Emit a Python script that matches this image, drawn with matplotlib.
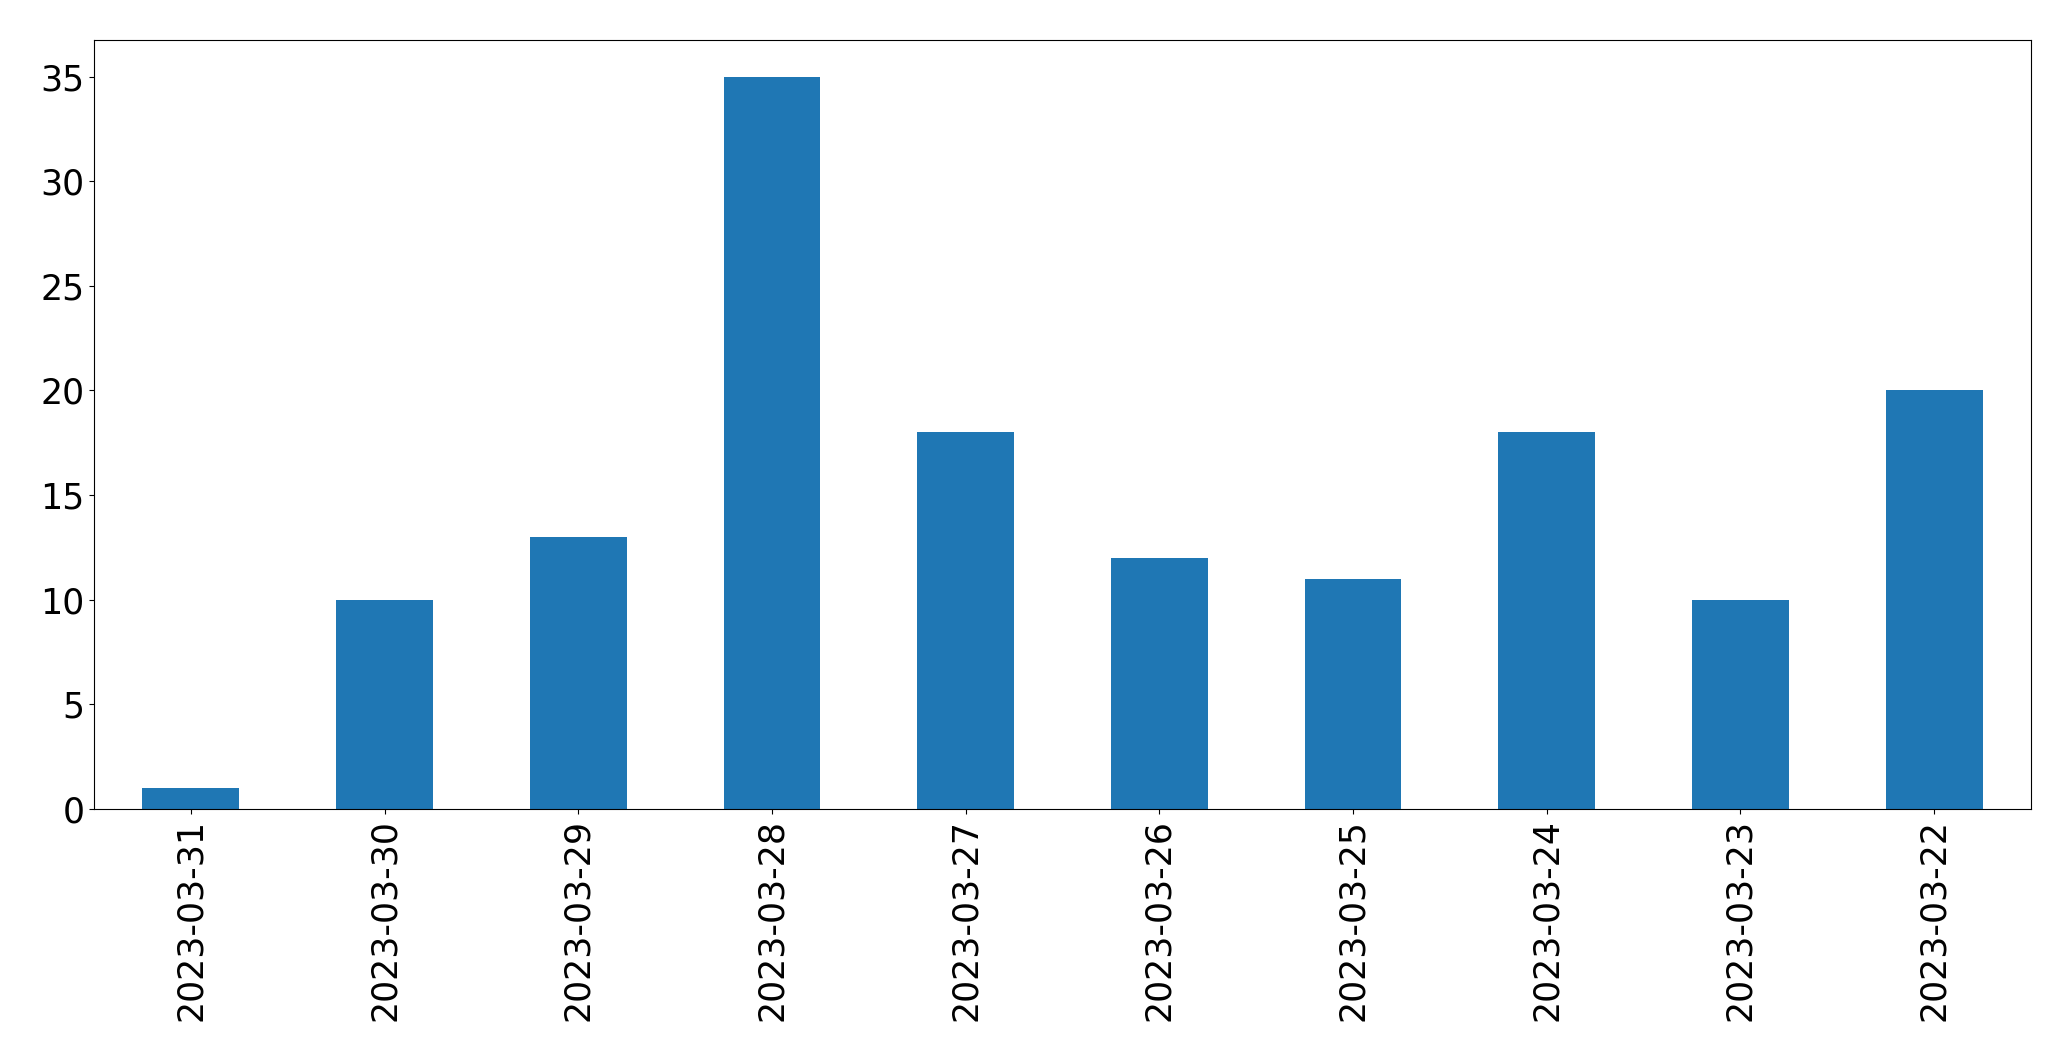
import matplotlib
matplotlib.use("Agg")
import matplotlib.pyplot as plt
import pandas as pd

dates = ["2023-03-31", "2023-03-30", "2023-03-29", "2023-03-28", "2023-03-27",
         "2023-03-26", "2023-03-25", "2023-03-24", "2023-03-23", "2023-03-22"]
counts = [1, 10, 13, 35, 18, 12, 11, 18, 10, 20]

s = pd.Series(counts, index=dates)

fig = plt.figure(figsize=(20.71, 10.61), dpi=100)
ax = fig.add_axes([94 / 2071, 1 - 809 / 1061, (2031 - 94) / 2071, (809 - 40) / 1061])
s.plot(kind="bar", ax=ax, color="#1f77b4")
ax.tick_params(labelsize=25)

fig.savefig("out.png", dpi=100)
